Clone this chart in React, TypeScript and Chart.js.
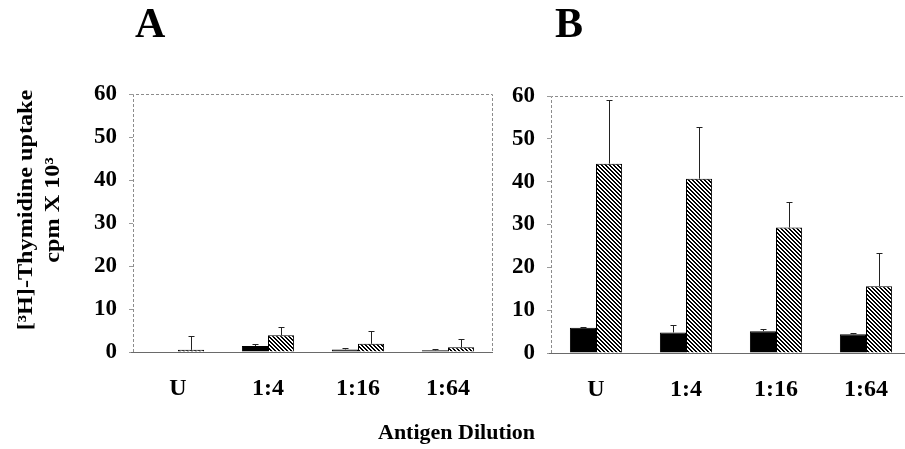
import React, { useEffect, useRef } from "react";
import { Chart, registerables } from "chart.js";

Chart.register(...registerables);

// ---- data ----
const categories = ["U", "1:4", "1:16", "1:64"];
const yMin = 0;
const yMax = 60;
const yStep = 10;

// Panel A
const panelAControl = [0.1, 1.4, 0.6, 0.4];
const panelAControlErr = [0, 0.4, 0.4, 0.3];
const panelAAntigen = [0.5, 3.9, 1.9, 1.1];
const panelAAntigenErr = [3.15, 1.9, 2.9, 1.9];

// Panel B
const panelBControl = [5.9, 4.8, 5.1, 4.4];
const panelBControlErr = [0.2, 1.8, 0.6, 0.3];
const panelBAntigen = [44.2, 40.7, 29.3, 15.6];
const panelBAntigenErr = [14.9, 12.1, 5.9, 7.7];

const FONT = "'Liberation Serif', 'Times New Roman', serif";

function makeHatch(): CanvasPattern | string {
  const s = 4;
  const c = document.createElement("canvas");
  c.width = s;
  c.height = s;
  const g = c.getContext("2d");
  if (!g) return "#777";
  g.fillStyle = "#fff";
  g.fillRect(0, 0, s, s);
  g.fillStyle = "#000";
  for (let y = 0; y < s; y++) {
    for (let x = 0; x < s; x++) {
      const d = (((x - y) % s) + s) % s;
      if (d === 0 || d === 1) g.fillRect(x, y, 1, 1);
    }
  }
  return g.createPattern(c, "repeat") || "#777";
}

const framePlugin = {
  id: "frame",
  beforeDatasetsDraw(chart: any) {
    const { ctx, chartArea } = chart;
    const { left, right, top, bottom } = chartArea;
    ctx.save();
    ctx.lineWidth = 1;
    ctx.strokeStyle = "#8c8c8c";
    ctx.setLineDash([3, 2]);
    ctx.beginPath();
    ctx.moveTo(left + 0.5, bottom);
    ctx.lineTo(left + 0.5, top + 0.5);
    ctx.lineTo(right - 0.5, top + 0.5);
    ctx.lineTo(right - 0.5, bottom);
    ctx.stroke();
    ctx.setLineDash([]);
    ctx.strokeStyle = "#6a6a6a";
    ctx.beginPath();
    ctx.moveTo(left - 2, Math.round(bottom) + 0.5);
    ctx.lineTo(right, Math.round(bottom) + 0.5);
    ctx.stroke();
    ctx.restore();
  },
};

const errorBarPlugin = {
  id: "errorBars",
  afterDatasetsDraw(chart: any) {
    const { ctx } = chart;
    const yScale = chart.scales.y;
    ctx.save();
    ctx.strokeStyle = "#222";
    ctx.lineWidth = 1;
    chart.data.datasets.forEach((ds: any, i: number) => {
      const meta = chart.getDatasetMeta(i);
      const errs: number[] = ds.errors || [];
      meta.data.forEach((el: any, j: number) => {
        const e = errs[j];
        if (!e) return;
        const v = ds.data[j];
        const x = Math.round(el.x) + 0.5;
        const yTop = Math.round(yScale.getPixelForValue(v + e)) + 0.5;
        const yBar = yScale.getPixelForValue(v);
        ctx.beginPath();
        ctx.moveTo(x, yBar);
        ctx.lineTo(x, yTop);
        ctx.moveTo(x - 3, yTop);
        ctx.lineTo(x + 3, yTop);
        ctx.stroke();
      });
    });
    ctx.restore();
  },
};

function buildConfig(
  control: number[],
  controlErr: number[],
  antigen: number[],
  antigenErr: number[],
  hatch: CanvasPattern | string,
  yAxisWidth: number,
  xAxisHeight: number,
  padTop: number,
  padRight: number
): any {
  return {
    type: "bar",
    data: {
      labels: categories,
      datasets: [
        {
          label: "Control",
          data: control,
          errors: controlErr,
          backgroundColor: "#000",
          borderColor: "#000",
          borderWidth: 1,
          categoryPercentage: 0.58,
          barPercentage: 1.0,
        },
        {
          label: "Antigen",
          data: antigen,
          errors: antigenErr,
          backgroundColor: hatch,
          borderColor: "#000",
          borderWidth: 1,
          categoryPercentage: 0.58,
          barPercentage: 1.0,
        },
      ],
    },
    options: {
      responsive: false,
      animation: false,
      events: [],
      layout: { padding: { left: 0, top: padTop, right: padRight, bottom: 0 } },
      plugins: {
        legend: { display: false },
        tooltip: { enabled: false },
        title: { display: false },
      },
      scales: {
        x: {
          grid: { display: false, drawTicks: false },
          border: { display: false },
          ticks: {
            color: "#000",
            padding: 22,
            font: { family: FONT, size: 24, weight: "bold" },
          },
          afterFit(scale: any) {
            scale.height = xAxisHeight;
          },
        },
        y: {
          min: yMin,
          max: yMax,
          grid: {
            drawOnChartArea: false,
            drawTicks: true,
            tickLength: 4,
            color: "#9a9a9a",
          },
          border: { display: false },
          ticks: {
            stepSize: yStep,
            color: "#000",
            padding: 12,
            font: { family: FONT, size: 23, weight: "bold" },
          },
          afterFit(scale: any) {
            scale.width = yAxisWidth;
          },
        },
      },
    },
    plugins: [framePlugin, errorBarPlugin],
  };
}

export default function App() {
  const refA = useRef<HTMLCanvasElement | null>(null);
  const refB = useRef<HTMLCanvasElement | null>(null);

  useEffect(() => {
    const hatch = makeHatch();
    const charts: Chart[] = [];
    if (refA.current) {
      charts.push(
        new Chart(
          refA.current,
          buildConfig(panelAControl, panelAControlErr, panelAAntigen, panelAAntigenErr, hatch, 133, 97, 94, 7)
        )
      );
    }
    if (refB.current) {
      charts.push(
        new Chart(
          refB.current,
          buildConfig(panelBControl, panelBControlErr, panelBAntigen, panelBAntigenErr, hatch, 71, 96, 96, 14)
        )
      );
    }
    return () => charts.forEach((c) => c.destroy());
  }, []);

  const textBase: React.CSSProperties = {
    position: "absolute",
    fontFamily: FONT,
    fontWeight: "bold",
    color: "#000",
    whiteSpace: "nowrap",
  };

  return (
    <div
      style={{
        position: "fixed",
        left: 0,
        top: 0,
        width: 905,
        height: 449,
        overflow: "hidden",
        background: "#fff",
      }}
    >
      <canvas
        ref={refA}
        width={500}
        height={449}
        style={{ position: "absolute", left: 0, top: 0, width: 500, height: 449 }}
      />
      <canvas
        ref={refB}
        width={445}
        height={449}
        style={{ position: "absolute", left: 480, top: 0, width: 445, height: 449 }}
      />
      <div style={{ ...textBase, left: 135, top: 2, fontSize: 42, lineHeight: "42px" }}>A</div>
      <div style={{ ...textBase, left: 555, top: 2, fontSize: 42, lineHeight: "42px" }}>B</div>
      <div
        style={{
          ...textBase,
          left: 38 - 150,
          top: 210 - 27,
          width: 300,
          height: 54,
          fontSize: 22,
          lineHeight: "27px",
          textAlign: "center",
          transform: "rotate(-90deg) scaleX(1.1)",
          transformOrigin: "50% 50%",
        }}
      >
        <div>[³H]-Thymidine uptake</div>
        <div>cpm X 10³</div>
      </div>
      <div style={{ ...textBase, left: 378, top: 421, fontSize: 22, lineHeight: "22px" }}>
        Antigen Dilution
      </div>
    </div>
  );
}
